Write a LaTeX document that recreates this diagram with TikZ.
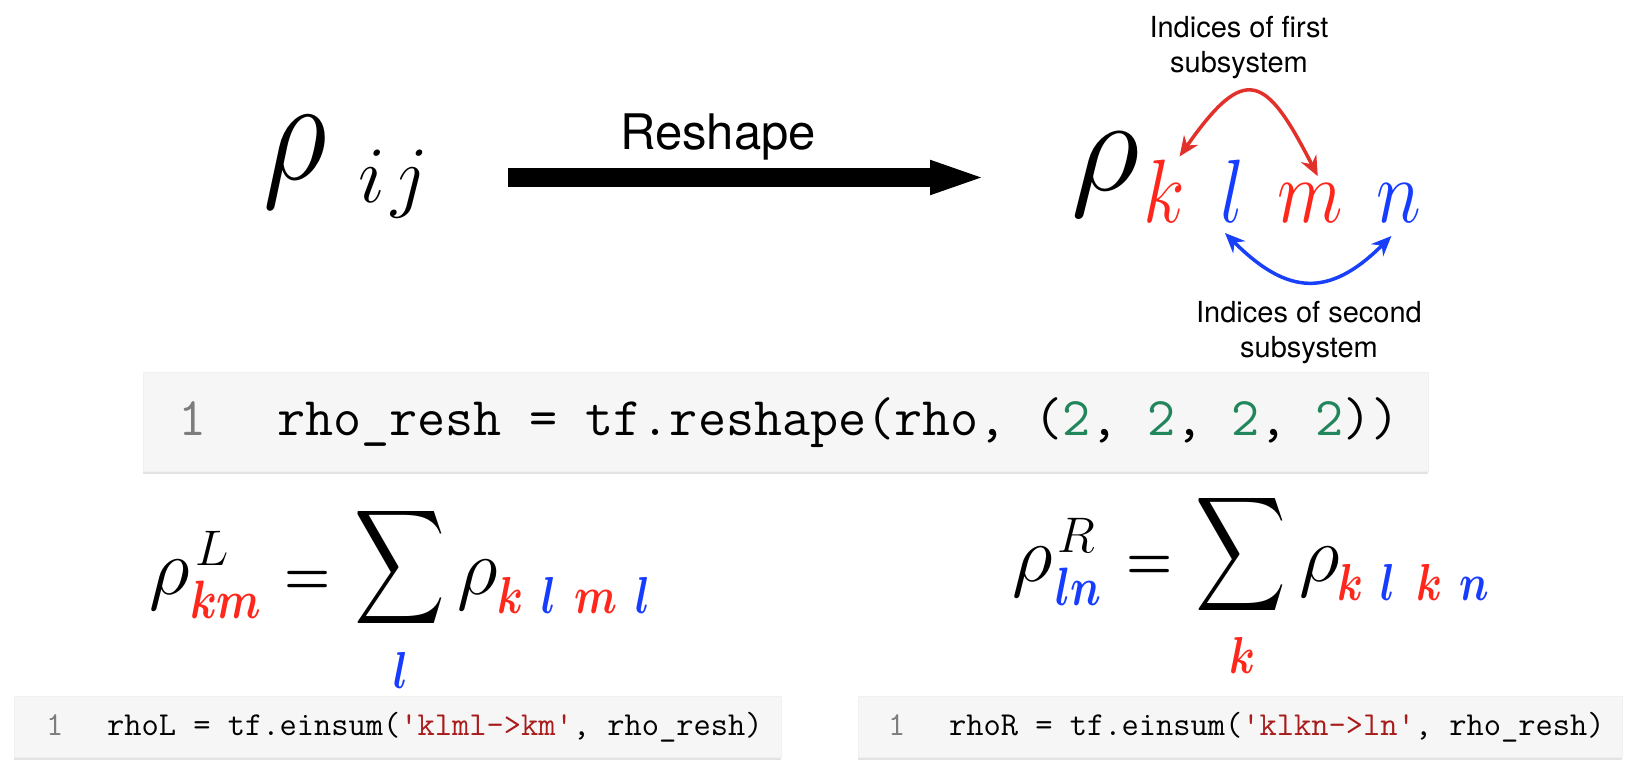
\documentclass[tikz,border=0pt]{standalone}
\usepackage{fix-cm}
\usepackage{fontspec}
\setsansfont{TeX Gyre Heros}
\usetikzlibrary{arrows.meta, shadows}

\definecolor{idxred}{RGB}{255,38,27}
\definecolor{idxblue}{RGB}{22,60,255}
\definecolor{arcred}{RGB}{226,48,42}
\definecolor{arcblue}{RGB}{24,64,250}
\definecolor{codebg}{RGB}{246,246,246}
\definecolor{codenum}{RGB}{34,134,92}
\definecolor{codestr}{RGB}{168,28,28}
\definecolor{codeline}{RGB}{125,125,125}
\newcommand{\setsz}[1]{\fontsize{#1}{#1}\selectfont}

\begin{document}
\begin{tikzpicture}[x=1pt, y=1pt, every node/.style={inner sep=0pt, outer sep=0pt},
  rho/.style={anchor=base west, font=\setsz{#1}},
  idx/.style={anchor=base west, xscale=0.85, font=\setsz{#1}},
  bidx/.style={anchor=base west, xscale=0.8, font=\setsz{#1}\boldmath},
  bigsum/.style={anchor=south, xscale=6.3, yscale=8, font=\setsz{10}},
  note/.style={anchor=north, align=center, font=\sffamily\fontsize{29}{35}\selectfont},
  codebox/.style={anchor=north west, fill=codebg, draw=black!6, drop shadow={shadow xshift=0pt, shadow yshift=-3pt, opacity=0.22}},
  code/.style={anchor=base west, font=\ttfamily\setsz{#1}},
  lineno/.style={anchor=base west, font=\ttfamily\setsz{#1}, text=codeline},
  bigarrow/.style={line width=19pt, -{Triangle[length=58pt, width=30pt]}},
  swaparc/.style={line width=3.5pt, {Stealth[length=20pt, width=17pt]}-{Stealth[length=20pt, width=17pt]}}]
	\fill[white] (0,0) rectangle (1636,-778);
	\useasboundingbox (0,0) rectangle (1636,-778);

	% reshape
	\node[rho=148, xscale=0.85] (rhoij) at (263,-180) {$\rho$};
	\node[anchor=base west, font=\setsz{80}] (subi) at (358,-203) {$i$};
	\node[anchor=base west, font=\setsz{80}] (subj) at (391,-203) {$j$};
	\coordinate (shaftL) at (508,-177.5);
	\coordinate (shaftR) at (988,-177.5);
	\draw[bigarrow] (shaftL) -- (shaftR);
	\node[anchor=base, font=\sffamily\setsz{49}] (reshape) at (718,-150) {Reshape};

	\node[rho=135] (rhoK) at (1071,-191) {$\rho$};
	\node[idx=90, text=idxred] (kk) at (1143,-223) {$k$};
	\node[idx=90, text=idxblue] (ll) at (1220,-223) {$l$};
	\node[idx=90, text=idxred] (mm) at (1277,-223) {$m$};
	\node[idx=90, text=idxblue] (nn) at (1376,-223) {$n$};

	\node[note] (first) at (1239,-16) {Indices of first\\subsystem};
	\node[note] (second) at (1309,-301) {Indices of second\\subsystem};
	\draw[swaparc, arcred] ([xshift=-5pt, yshift=4pt]kk.north east) to[out=55, in=117, looseness=2.1] ([xshift=8pt, yshift=8pt]mm.north);
	\draw[swaparc, arcblue] ([xshift=-7pt, yshift=-10pt]ll.south) to[out=-45, in=-135, looseness=1.35] ([xshift=-7pt, yshift=-13pt]nn.south);

	% code line 1
	\node[codebox, minimum width=1285pt, minimum height=99pt] (box1) at (143,-372) {};
	\node[lineno=54.5] (no1) at (178,-435) {1};
	\node[code=54.5] (code1) at (277,-435) {rho\_resh = tf.reshape(rho, (\textcolor{codenum}{2}, \textcolor{codenum}{2}, \textcolor{codenum}{2}, \textcolor{codenum}{2}))};

	% partial trace over l
	\node[rho=80] (rhoL) at (149,-594) {$\rho$};
	\node[anchor=base west, font=\setsz{50}] (supL) at (195,-565) {$L$};
	\node[bidx=54, text=idxred] (subL) at (190,-618) {$km$};
	\node[anchor=base, xscale=0.88, font=\setsz{60}\boldmath] (eqL) at (308,-594) {$=$};
	\node[bigsum] (sumL) at (400,-632) {$\displaystyle\sum$};
	\node[bidx=52, anchor=base, text=idxblue] (limL) at (401,-688) {$l$};
	\node[rho=80] (rhoL2) at (457,-594) {$\rho$};
	\node[bidx=52] (klml) at (497,-613) {$\color{idxred}k$\hspace{23pt}$\color{idxblue}l$\hspace{23pt}$\color{idxred}m$\hspace{22pt}$\color{idxblue}l$};

	% partial trace over k
	\node[rho=80] (rhoR) at (1012,-581) {$\rho$};
	\node[anchor=base west, font=\setsz{50}] (supR) at (1057,-552) {$R$};
	\node[bidx=54, text=idxblue] (subR) at (1055,-605) {$ln$};
	\node[anchor=base, xscale=0.88, font=\setsz{60}\boldmath] (eqR) at (1150,-579) {$=$};
	\node[bigsum] (sumR) at (1241,-619) {$\displaystyle\sum$};
	\node[bidx=52, anchor=base, text=idxred] (limR) at (1242,-673) {$k$};
	\node[rho=80] (rhoR2) at (1299,-581) {$\rho$};
	\node[bidx=52] (klkn) at (1337,-600) {$\color{idxred}k$\hspace{22pt}$\color{idxblue}l$\hspace{26pt}$\color{idxred}k$\hspace{22pt}$\color{idxblue}n$};

	% code lines 2 and 3
	\node[codebox, minimum width=767pt, minimum height=61pt] (box2) at (14,-696) {};
	\node[lineno=33.5] (no2) at (46,-735) {1};
	\node[code=33.5] (code2) at (107,-735) {rhoL = tf.einsum(\textcolor{codestr}{'klml->km'}, rho\_resh)};
	\node[codebox, minimum width=764pt, minimum height=61pt] (box3) at (858,-696) {};
	\node[lineno=33.5] (no3) at (888,-735) {1};
	\node[code=33.5] (code3) at (949,-735) {rhoR = tf.einsum(\textcolor{codestr}{'klkn->ln'}, rho\_resh)};
\end{tikzpicture}
\end{document}
